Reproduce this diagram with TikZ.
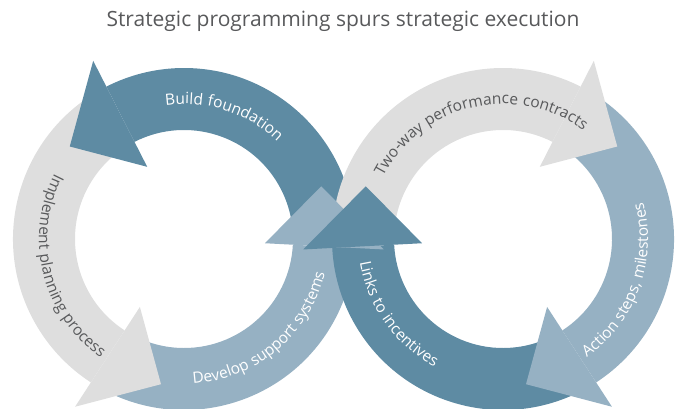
\documentclass[tikz,border=0pt]{standalone}
\usepackage{fontspec}
\setmainfont{Open Sans}
\newfontfamily\ringfam{Open Sans}[LetterSpace=4]
\usetikzlibrary{decorations.text}

\definecolor{deepblue}{HTML}{5E8BA3}
\definecolor{paleblue}{HTML}{96B1C3}
\definecolor{lightgrey}{HTML}{DEDEDE}
\definecolor{inkgrey}{HTML}{58595B}

% label font inside the rings
\newcommand{\ringfont}{\ringfam\fontsize{15.5}{19}\selectfont}

\begin{document}
\begin{tikzpicture}[x=1pt, y=1pt,
  ringlabel/.style={postaction={decorate,
      decoration={text along path, text align=center, text={#1}}}}
  ]
  \useasboundingbox (0,0) rectangle (679,408);

  \node[text=inkgrey, font=\fontsize{21}{25}\selectfont] (title) at (343,387)
    {Strategic programming spurs strategic execution};

  \coordinate (lc) at (184,169);
  \coordinate (rc) at (503,169);

  % left ring: bands
  \fill[deepblue, shift={(lc)}] (1.5:171) arc[start angle=1.5, end angle=117, radius=171]
    -- (117:109) arc[start angle=117, end angle=1.5, radius=109] -- cycle;
  \fill[lightgrey, shift={(lc)}] (121:171) arc[start angle=121, end angle=237, radius=171]
    -- (237:109) arc[start angle=237, end angle=121, radius=109] -- cycle;
  \fill[paleblue, shift={(lc)}] (241.5:171) arc[start angle=241.5, end angle=357, radius=171]
    -- (357:109) arc[start angle=357, end angle=241.5, radius=109] -- cycle;

  % right ring: bands
  \fill[lightgrey, shift={(rc)}] (178.5:171) arc[start angle=178.5, end angle=63, radius=171]
    -- (63:109) arc[start angle=63, end angle=178.5, radius=109] -- cycle;
  \fill[paleblue, shift={(rc)}] (59:171) arc[start angle=59, end angle=-57, radius=171]
    -- (-57:109) arc[start angle=-57, end angle=59, radius=109] -- cycle;
  \fill[deepblue, shift={(rc)}] (-61.5:171) arc[start angle=-61.5, end angle=-177, radius=171]
    -- (-177:109) arc[start angle=-177, end angle=-61.5, radius=109] -- cycle;

  % arrow heads
  \fill[deepblue, shift={(lc)}] (117:200) -- (141:147) -- (117:81) -- cycle;
  \fill[lightgrey, shift={(lc)}] (237:200) -- (261:147) -- (237:81) -- cycle;
  \fill[lightgrey, shift={(rc)}] (63:200) -- (39:147) -- (63:81) -- cycle;
  \fill[paleblue, shift={(rc)}] (-57:200) -- (-81:147) -- (-57:81) -- cycle;
  \fill[paleblue, shift={(lc)}] (-3:200) -- (21:147) -- (-3:81) -- cycle;
  \fill[deepblue, shift={(rc)}] (183:200) -- (159:147) -- (183:81) -- cycle;

  % labels along the rings
  \path[shift={(lc)}, ringlabel={|\ringfont\color{white}|Build foundation}]
    (130:135) arc[start angle=130, end angle=14, radius=135];
  \path[shift={(lc)}, ringlabel={|\ringfont\color{inkgrey}|Implement planning process}]
    (130:145) arc[start angle=130, end angle=258, radius=145];
  \path[shift={(lc)}, ringlabel={|\ringfont\color{white}|Develop support systems}]
    (245:145) arc[start angle=245, end angle=375, radius=145];
  \path[shift={(rc)}, ringlabel={|\ringfont\color{inkgrey}|Two-way performance contracts}]
    (172:135) arc[start angle=172, end angle=34, radius=135];
  \path[shift={(rc)}, ringlabel={|\ringfont\color{white}|Action steps, milestones}]
    (-85:145) arc[start angle=-85, end angle=45, radius=145];
  \path[shift={(rc)}, ringlabel={|\ringfont\color{white}|Links to incentives}]
    (165:145) arc[start angle=165, end angle=266, radius=145];
\end{tikzpicture}
\end{document}
